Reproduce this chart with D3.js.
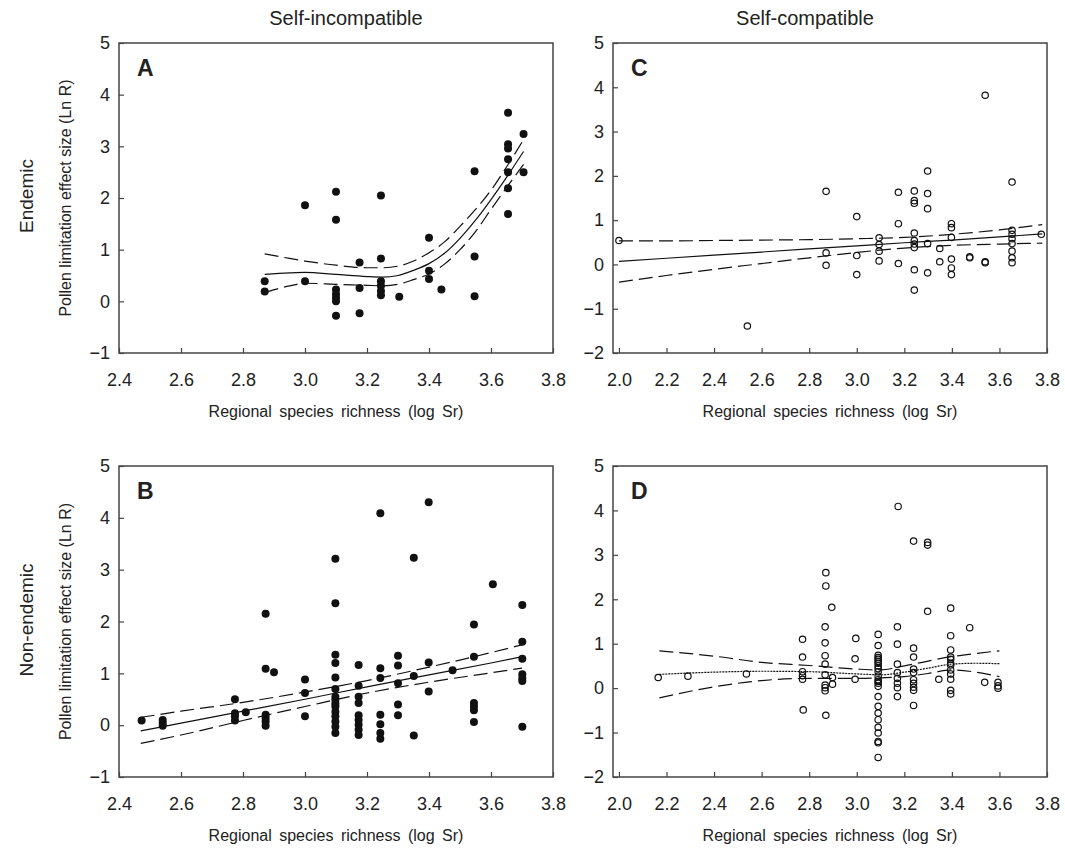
<!DOCTYPE html>
<html>
<head>
<meta charset="utf-8">
<script src="https://cdn.jsdelivr.net/npm/d3@7"></script>
<style>
body { margin: 0; background: #fff; }
text { font-family: "Liberation Sans", Arial, sans-serif; fill: #222; }
</style>
</head>
<body>
<svg id="fig"></svg>
<script>
var W = 1065, H = 849;

// tick labels
var xTicksSI = [2.4, 2.6, 2.8, 3.0, 3.2, 3.4, 3.6, 3.8];
var xTicksSC = [2.0, 2.2, 2.4, 2.6, 2.8, 3.0, 3.2, 3.4, 3.6, 3.8];
var yTicksSI = [-1, 0, 1, 2, 3, 4, 5];
var yTicksSC = [-2, -1, 0, 1, 2, 3, 4, 5];

var colTitles = ["Self-incompatible", "Self-compatible"];
var rowTitles = ["Endemic", "Non-endemic"];

// points [log Sr, Ln R]
var ptsA = [[2.87,0.39],[2.87,0.19],[3.0,1.86],[3.0,0.39],[3.1,2.12],[3.1,1.58],[3.1,0.23],[3.1,0.14],[3.1,0.07],[3.1,0.0],[3.1,-0.28],
  [3.176,0.75],[3.176,0.26],[3.176,-0.23],[3.245,2.05],[3.245,0.83],[3.245,0.39],[3.245,0.30],[3.245,0.20],[3.245,0.12],
  [3.304,0.09],[3.40,1.23],[3.40,0.59],[3.40,0.43],[3.44,0.23],[3.547,2.52],[3.547,0.87],[3.547,0.10],
  [3.655,3.65],[3.655,3.04],[3.655,2.96],[3.655,2.75],[3.655,2.50],[3.655,2.19],[3.655,1.69],[3.705,3.24],[3.705,2.50]];

var ptsB = [[2.473,0.09],[2.541,0.10],[2.541,0.04],[2.541,-0.01],
  [2.774,0.50],[2.774,0.23],[2.774,0.17],[2.774,0.09],[2.809,0.25],
  [2.873,2.15],[2.873,1.09],[2.873,0.20],[2.873,0.14],[2.873,0.07],[2.873,-0.01],[2.90,1.02],
  [3.0,0.88],[3.0,0.62],[3.0,0.17],
  [3.098,3.21],[3.098,2.35],[3.098,1.36],[3.098,1.20],[3.098,0.92],[3.098,0.70],[3.098,0.55],[3.098,0.49],[3.098,0.42],[3.098,0.36],
  [3.098,0.26],[3.098,0.17],[3.098,0.07],[3.098,-0.03],[3.098,-0.15],
  [3.173,1.16],[3.173,0.76],[3.173,0.55],[3.173,0.43],[3.173,0.19],[3.173,0.10],[3.173,0.01],[3.173,-0.09],[3.173,-0.19],
  [3.243,4.09],[3.243,1.10],[3.243,0.91],[3.243,0.20],[3.243,0.02],[3.243,-0.15],[3.243,-0.26],
  [3.30,1.34],[3.30,1.15],[3.30,0.81],[3.30,0.40],[3.30,0.19],
  [3.351,3.23],[3.351,0.95],[3.351,-0.20],[3.399,4.30],[3.399,1.21],[3.399,0.65],[3.476,1.06],
  [3.545,1.94],[3.545,1.32],[3.545,0.43],[3.545,0.36],[3.545,0.29],[3.545,0.06],[3.606,2.72],
  [3.701,2.32],[3.701,1.61],[3.701,1.28],[3.701,0.98],[3.701,0.91],[3.701,0.85],[3.701,-0.03]];

var ptsC = [[2.0,0.54],[2.54,-1.39],[2.871,1.65],[2.871,0.26],[2.871,-0.02],[3.0,1.08],[3.0,0.20],[3.0,-0.23],
  [3.094,0.60],[3.094,0.45],[3.094,0.30],[3.094,0.08],[3.175,1.63],[3.175,0.92],[3.175,0.02],
  [3.242,1.66],[3.242,1.44],[3.242,1.38],[3.242,0.71],[3.242,0.54],[3.242,0.46],[3.242,0.38],[3.242,-0.12],[3.242,-0.58],
  [3.298,2.11],[3.298,1.60],[3.298,1.26],[3.298,0.47],[3.298,-0.19],[3.349,0.36],[3.349,0.06],
  [3.398,0.92],[3.398,0.83],[3.398,0.61],[3.398,0.12],[3.398,-0.08],[3.398,-0.23],[3.475,0.17],[3.475,0.15],
  [3.54,3.82],[3.54,0.06],[3.54,0.04],
  [3.653,1.86],[3.653,0.77],[3.653,0.68],[3.653,0.58],[3.653,0.47],[3.653,0.30],[3.653,0.15],[3.653,0.04],[3.776,0.68]];

var ptsD = [[2.165,0.24],[2.29,0.27],[2.536,0.32],
  [2.772,1.10],[2.772,0.70],[2.772,0.37],[2.772,0.28],[2.772,0.20],[2.775,-0.49],
  [2.87,2.60],[2.87,2.30],[2.895,1.82],[2.867,1.38],[2.867,1.02],[2.867,0.73],[2.867,0.54],[2.867,0.30],[2.867,0.07],
  [2.867,0.01],[2.867,-0.06],[2.87,-0.61],[2.898,0.24],[2.898,0.09],
  [2.996,1.12],[2.993,0.66],[2.993,0.20],
  [3.09,1.21],[3.09,0.96],[3.09,0.74],[3.09,0.69],[3.09,0.65],[3.09,0.60],[3.09,0.56],[3.09,0.50],[3.09,0.44],[3.09,0.37],
  [3.09,0.27],[3.09,0.19],[3.09,0.15],[3.09,0.11],[3.09,0.04],[3.09,-0.19],[3.09,-0.41],[3.09,-0.56],[3.09,-0.71],
  [3.09,-0.88],[3.09,-1.01],[3.09,-1.20],[3.09,-1.23],[3.09,-1.56],
  [3.174,4.09],[3.171,1.38],[3.171,0.99],[3.171,0.54],[3.171,0.35],[3.171,0.22],[3.171,0.11],[3.171,0.01],[3.171,-0.19],
  [3.239,3.31],[3.239,0.90],[3.239,0.70],[3.239,0.43],[3.239,0.35],[3.239,0.19],[3.239,0.11],[3.239,0.02],[3.239,-0.05],[3.239,-0.39],
  [3.298,3.28],[3.298,3.22],[3.298,1.73],[3.345,0.20],
  [3.395,1.80],[3.395,1.18],[3.395,0.86],[3.395,0.70],[3.395,0.65],[3.395,0.56],[3.395,0.52],[3.395,0.41],[3.395,0.32],
  [3.395,0.20],[3.395,-0.05],[3.395,-0.13],
  [3.475,1.36],[3.538,0.13],[3.594,0.13],[3.594,0.05],[3.594,0.00]];

// fitted lines and 95% bands
var fitXA = [2.87, 2.95, 3.0, 3.1, 3.2, 3.25, 3.3, 3.35, 3.4, 3.45, 3.5, 3.55, 3.6, 3.65, 3.705];
var fitA  = [0.52, 0.55, 0.56, 0.52, 0.48, 0.47, 0.50, 0.60, 0.73, 0.93, 1.22, 1.57, 1.97, 2.40, 2.90];
var upA   = [0.92, 0.83, 0.78, 0.70, 0.65, 0.65, 0.68, 0.78, 0.94, 1.15, 1.45, 1.78, 2.15, 2.60, 3.13];
var loA   = [0.17, 0.30, 0.35, 0.33, 0.31, 0.30, 0.33, 0.42, 0.53, 0.72, 1.00, 1.35, 1.78, 2.20, 2.65];

var fitXB = [2.47, 2.6, 2.8, 3.0, 3.2, 3.4, 3.6, 3.7];
var fitB  = [-0.11, 0.04, 0.27, 0.50, 0.74, 0.97, 1.20, 1.32];
var upB   = [0.15, 0.27, 0.44, 0.64, 0.86, 1.12, 1.40, 1.55];
var loB   = [-0.35, -0.19, 0.09, 0.36, 0.62, 0.83, 1.01, 1.10];

var fitXC = [2.0, 2.2, 2.4, 2.6, 2.8, 3.0, 3.2, 3.4, 3.6, 3.78];
var fitC  = [0.07, 0.14, 0.21, 0.28, 0.35, 0.42, 0.49, 0.55, 0.62, 0.69];
var upC   = [0.53, 0.53, 0.54, 0.55, 0.56, 0.58, 0.61, 0.68, 0.78, 0.90];
var loC   = [-0.40, -0.25, -0.11, 0.02, 0.15, 0.27, 0.37, 0.43, 0.46, 0.48];

var fitXD = [2.17, 2.4, 2.6, 2.8, 3.0, 3.1, 3.2, 3.3, 3.4, 3.5, 3.6];
var fitD  = [0.31, 0.36, 0.38, 0.37, 0.32, 0.30, 0.36, 0.45, 0.54, 0.56, 0.55];
var upD   = [0.84, 0.72, 0.58, 0.51, 0.43, 0.41, 0.50, 0.61, 0.71, 0.78, 0.84];
var loD   = [-0.22, 0.03, 0.17, 0.22, 0.22, 0.23, 0.26, 0.33, 0.41, 0.36, 0.26];

var svg = d3.select("#fig").attr("width", W).attr("height", H);

var panels = [
  {letter: "A", x0: 119, x1: 553, y0: 43, y1: 353, xd: [2.4, 3.8], yd: [-1, 5], xt: xTicksSI, yt: yTicksSI,
   pts: ptsA, filled: true, fx: fitXA, fit: fitA, up: upA, lo: loA, fitDash: null},
  {letter: "C", x0: 613, x1: 1047, y0: 43, y1: 353, xd: [1.975, 3.8], yd: [-2, 5], xt: xTicksSC, yt: yTicksSC,
   pts: ptsC, filled: false, fx: fitXC, fit: fitC, up: upC, lo: loC, fitDash: null},
  {letter: "B", x0: 119, x1: 553, y0: 466, y1: 777, xd: [2.4, 3.8], yd: [-1, 5], xt: xTicksSI, yt: yTicksSI,
   pts: ptsB, filled: true, fx: fitXB, fit: fitB, up: upB, lo: loB, fitDash: null},
  {letter: "D", x0: 613, x1: 1047, y0: 466, y1: 777, xd: [1.975, 3.8], yd: [-2, 5], xt: xTicksSC, yt: yTicksSC,
   pts: ptsD, filled: false, fx: fitXD, fit: fitD, up: upD, lo: loD, fitDash: "2,1"}
];

panels.forEach(function(p){
  var x = d3.scaleLinear().domain(p.xd).range([p.x0, p.x1]);
  var y = d3.scaleLinear().domain(p.yd).range([p.y1, p.y0]);
  var g = svg.append("g");

  var xa = g.append("g").attr("transform", "translate(0," + p.y1 + ")")
    .call(d3.axisBottom(x).tickValues(p.xt).tickFormat(d3.format(".1f"))
      .tickSizeInner(-5).tickSizeOuter(0).tickPadding(20));
  var ya = g.append("g").attr("transform", "translate(" + p.x0 + ",0)")
    .call(d3.axisLeft(y).tickValues(p.yt).tickFormat(d3.format("d"))
      .tickSizeInner(-5).tickSizeOuter(0).tickPadding(9));
  [xa, ya].forEach(function(a){
    a.select(".domain").remove();
    a.selectAll("line").attr("stroke", "#444").attr("stroke-width", 1.2);
    a.selectAll("text").style("font-size", "18px").attr("fill", "#222")
      .style("font-family", "'Liberation Sans', Arial, sans-serif");
  });

  var line = d3.line().x(function(d){ return x(d[0]); }).y(function(d){ return y(d[1]); }).curve(d3.curveMonotoneX);
  var fitPts = p.fx.map(function(v, i){ return [v, p.fit[i]]; });
  var upPts = p.fx.map(function(v, i){ return [v, p.up[i]]; });
  var loPts = p.fx.map(function(v, i){ return [v, p.lo[i]]; });

  g.append("path").datum(fitPts).attr("d", line).attr("fill", "none")
    .attr("stroke", "#111").attr("stroke-width", 1.2)
    .attr("stroke-dasharray", p.fitDash);
  [upPts, loPts].forEach(function(b){
    g.append("path").datum(b).attr("d", line).attr("fill", "none")
      .attr("stroke", "#111").attr("stroke-width", 1.2)
      .attr("stroke-dasharray", "14,6");
  });

  g.selectAll("circle.pt").data(p.pts).enter().append("circle")
    .attr("class", "pt")
    .attr("cx", function(d){ return x(d[0]); })
    .attr("cy", function(d){ return y(d[1]); })
    .attr("r", p.filled ? 4 : 3.2)
    .attr("fill", p.filled ? "#111" : "none")
    .attr("stroke", "#111")
    .attr("stroke-width", p.filled ? 0 : 1.2);

  g.append("rect").attr("x", p.x0).attr("y", p.y0)
    .attr("width", p.x1 - p.x0).attr("height", p.y1 - p.y0)
    .attr("fill", "none").attr("stroke", "#444").attr("stroke-width", 1.5);

  g.append("text").attr("x", p.x0 + 18).attr("y", p.y0 + 33)
    .style("font-size", "23px").style("font-weight", "bold").text(p.letter);

  g.append("text").attr("x", (p.x0 + p.x1) / 2).attr("y", p.y1 + 64)
    .attr("text-anchor", "middle").style("font-size", "16px").style("word-spacing", "3px")
    .text("Regional species richness (log Sr)");

  if (p.x0 < 300) {
    g.append("text")
      .attr("transform", "translate(71," + ((p.y0 + p.y1) / 2) + ") rotate(-90)")
      .attr("text-anchor", "middle").style("font-size", "16px")
      .text("Pollen limitation effect size (Ln R)");
  }
});

// column and row titles
svg.selectAll("text.col").data(colTitles).enter().append("text")
  .attr("class", "col")
  .attr("x", function(d, i){ return i == 0 ? 346 : 805; })
  .attr("y", 25)
  .attr("text-anchor", "middle").style("font-size", "20px")
  .text(function(d){ return d; });

svg.selectAll("text.row").data(rowTitles).enter().append("text")
  .attr("class", "row")
  .attr("transform", function(d, i){ return "translate(33," + (i == 0 ? 196 : 620) + ") rotate(-90)"; })
  .attr("text-anchor", "middle").style("font-size", "19px")
  .text(function(d){ return d; });
</script>
</body>
</html>
